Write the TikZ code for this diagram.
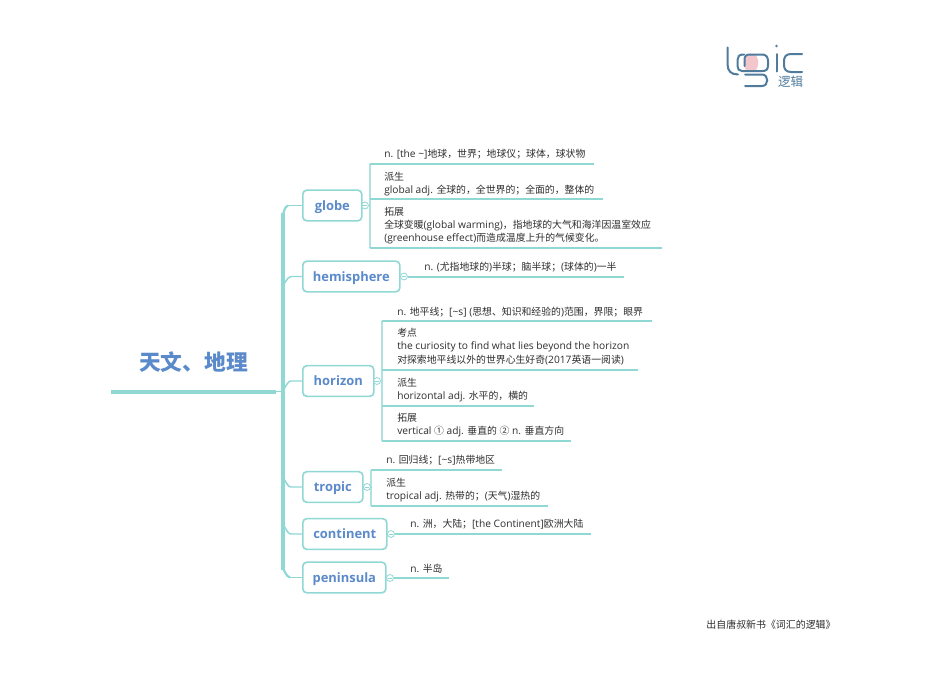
\documentclass[tikz,border=0pt]{standalone}
\usepackage{fontspec}
\usetikzlibrary{calc}
\setmainfont{Open Sans}
\newfontfamily\cjk[Scale=0.967]{Noto Sans CJK SC}
\newcommand{\zh}[1]{{\cjk #1}}
\definecolor{teal1}{HTML}{8FD8D4}
\definecolor{blue1}{HTML}{5B8ACB}
\definecolor{ink}{HTML}{2E2E2E}
\definecolor{logob}{HTML}{4F7C9C}
\definecolor{logop}{HTML}{F3C6CC}
\tikzset{
  topic/.style={draw=teal1,line width=1.2pt,rounded corners=3pt,fill=white,anchor=west,minimum height=23pt,inner sep=0pt,text=blue1,text height=8pt,text depth=1.2pt,font=\fontsize{9.7}{12}\selectfont\bfseries},
  leaf/.style={anchor=west,inner sep=0pt,text=ink,font=\fontsize{7.65}{10}\selectfont,align=left},
  under/.style={draw=teal1,line width=1.5pt},
  bracket/.style={draw=teal1,line width=1.5pt,draw opacity=0.7},
  trunk/.style={draw=teal1,line width=2.4pt},
  branch/.style={draw=teal1,line width=1.1pt},
  fold/.style={circle,draw=teal1,line width=0.6pt,fill=white,minimum size=5.2pt,inner sep=0pt},
  logoline/.style={draw=logob,line width=1.5pt,line cap=round}
}
\newcommand{\foldmark}[2]{\node[fold] (#1) at #2 {};\draw[draw=teal1,line width=0.4pt] ($(#1)+(-2,0)$) -- ($(#1)+(2,0)$);}
\begin{document}
\begin{tikzpicture}[x=0.75pt,y=-0.75pt]
\useasboundingbox[fill=white] (0,0) rectangle (950,672);
% root
\node[anchor=center,inner sep=0pt,text=blue1,font=\fontsize{16.85}{18}\selectfont\cjk\bfseries] (root) at (193.5,362) {天文、地理};
\coordinate (rootL) at (111,391.5);
\coordinate (rootR) at (276,391.5);
\coordinate (tt) at (283,213);
\coordinate (tb) at (283,570);
\coordinate (tm) at (283,391.5);
\draw[draw=teal1,line width=3pt] (rootL) -- (rootR);
\draw[branch] (rootR) -- (tm);
% topics
\node[topic,minimum width=44.25pt] (globe) at (302,205.5) {globe};
\node[topic,minimum width=72.75pt] (hemi) at (302,276.5) {hemisphere};
\node[topic,minimum width=53.25pt] (horizon) at (302,381) {horizon};
\node[topic,minimum width=45pt] (tropic) at (302,487) {tropic};
\node[topic,minimum width=63pt] (cont) at (302,534) {continent};
\node[topic,minimum width=62.25pt] (pen) at (302,577.5) {peninsula};
% trunk and branches
\draw[trunk] (tt) -- (tb);
\draw[trunk,line width=1.6pt] (tt) to[out=-90,in=180] ($(globe.west)+(-14,0)$);
\draw[branch] ($(globe.west)+(-14,0)$) -- (globe.west);
\draw[branch] (283,284) to[out=-90,in=180] (291,276.5) -- (hemi.west);
\draw[branch] (283,389) to[out=-90,in=180] (291,381) -- (horizon.west);
\draw[branch] (283,479) to[out=90,in=180] (291,487) -- (tropic.west);
\draw[branch] (283,526) to[out=90,in=180] (291,534) -- (cont.west);
\draw[trunk,line width=1.6pt] (tb) to[out=90,in=180] ($(pen.west)+(-12,0)$);
\draw[branch] ($(pen.west)+(-12,0)$) -- (pen.west);
% fold marks
\foldmark{fa}{(365,205.5)}
\foldmark{fb}{(404,276.5)}
\foldmark{fc}{(377,381)}
\foldmark{fd}{(367,487)}
\foldmark{fe}{(391,534)}
\foldmark{ff}{(390,578)}
\foreach \p/\q in {globe/fa,hemi/fb,horizon/fc,tropic/fd,cont/fe,pen/ff}{\draw[draw=teal1,line width=0.5pt] (\p.east) -- (\q.west);}
% globe leaves
\coordinate (a0) at (369.5,163.5); \coordinate (a0b) at (369.5,248);
\coordinate (a1) at (594,163.5); \coordinate (a2) at (603,199); \coordinate (a3) at (662,248);
\draw[bracket] (a0) -- (a0b);
\draw[under] (a0) -- (a1);
\draw[under] (369.5,199) -- (a2);
\draw[under] (a0b) -- (a3);
\draw[bracket,line width=0.7pt] (fa.east) -- (369.5,205.5);
\node[leaf] (t1) at (384,154.5) {n. [the \textasciitilde]\zh{地球，世界；地球仪；球体，球状物}};
\node[leaf,anchor=north west] (t2) at (384,171.5) {\zh{派生}\\global adj. \zh{全球的，全世界的；全面的，整体的}};
\node[leaf,anchor=north west] (t3) at (384,206.5) {\zh{拓展}\\\zh{全球变暖}(global warming)\zh{，指地球的大气和海洋因温室效应}\\(greenhouse effect)\zh{而造成温度上升的气候变化。}};
% hemisphere
\coordinate (b1) at (624,276.5);
\draw[under] (fb.east) -- (b1);
\node[leaf] (t4) at (424,267) {n. (\zh{尤指地球的})\zh{半球；脑半球；}(\zh{球体的})\zh{一半}};
% horizon
\coordinate (c0) at (382,321); \coordinate (c0b) at (382,441);
\coordinate (c1) at (652,321); \coordinate (c2) at (638,370); \coordinate (c3) at (534,405.5); \coordinate (c4) at (571,441);
\draw[bracket] (c0) -- (c0b);
\draw[under] (c0) -- (c1);
\draw[under] (382,370) -- (c2);
\draw[under] (382,405.5) -- (c3);
\draw[under] (c0b) -- (c4);
\draw[bracket,line width=0.7pt] (fc.east) -- (382,381);
\node[leaf] (t5) at (397,312) {n. \zh{地平线；}[\textasciitilde s] (\zh{思想、知识和经验的})\zh{范围，界限；眼界}};
\node[leaf,anchor=north west] (t6) at (397,328) {\zh{考点}\\the curiosity to find what lies beyond the horizon\\\zh{对探索地平线以外的世界心生好奇}(2017\zh{英语一阅读})};
\node[leaf,anchor=north west] (t7) at (397,377.5) {\zh{派生}\\horizontal adj. \zh{水平的，横的}};
\node[leaf,anchor=north west] (t8) at (397,412.5) {\zh{拓展}\\vertical \zh{①} adj. \zh{垂直的} \zh{②} n. \zh{垂直方向}};
% tropic
\coordinate (d0) at (371,469.5); \coordinate (d0b) at (371,505.5);
\coordinate (d1) at (502,469.5); \coordinate (d2) at (548,505.5);
\draw[bracket] (d0) -- (d0b);
\draw[under] (d0) -- (d1);
\draw[under] (d0b) -- (d2);
\draw[bracket,line width=0.7pt] (fd.east) -- (371,487);
\node[leaf] (t9) at (386,460.5) {n. \zh{回归线；}[\textasciitilde s]\zh{热带地区}};
\node[leaf,anchor=north west] (t10) at (386,477.5) {\zh{派生}\\tropical adj. \zh{热带的；}(\zh{天气})\zh{湿热的}};
% continent
\coordinate (e1) at (591,534);
\draw[under] (fe.east) -- (e1);
\node[leaf] (t11) at (410,524.5) {n. \zh{洲，大陆；}[the Continent]\zh{欧洲大陆}};
% peninsula
\coordinate (f1) at (449,578);
\draw[under] (ff.east) -- (f1);
\node[leaf] (t12) at (410,568.5) {n. \zh{半岛}};
% footer
\node[anchor=center,inner sep=0pt,text=ink,font=\fontsize{7.7}{9}\selectfont\cjk] (foot) at (771,624.5) {出自唐叔新书《词汇的逻辑》};
% logo
\fill[logop,rounded corners=4pt] (744,54.5) rectangle (758,71);
\draw[logoline] (727.5,47.5) -- (727.5,64) .. controls (727.5,71) and (731,74.5) .. (738,74.5);
\draw[logoline] (744,54.5) -- (743,54.5) .. controls (739,54.5) and (737.5,57) .. (737.5,60) -- (737.5,66) .. controls (737.5,69) and (739,71) .. (742,71) -- (752,71);
\draw[logoline] (750,54.5) -- (762,54.5) .. controls (766,54.5) and (768,57) .. (768,61) -- (768,65) .. controls (768,70) and (766,71) .. (762,71) -- (752,71);
\draw[logoline] (750,54.5) .. controls (746,54.5) and (744.5,56) .. (744.5,60) -- (744.5,66);
\draw[logoline] (745,74.5) -- (762,74.5) .. controls (769,74.5) and (769,86) .. (762,86) -- (745,86);
\fill[logob] (776.5,46) circle (1.4);
\draw[logoline] (776.5,54) -- (776.5,71.5);
\draw[logoline] (802,54) -- (791,54) .. controls (786,54) and (784,57) .. (784,61) -- (784,65) .. controls (784,69) and (786,72) .. (791,72) -- (802,72);
\node[anchor=center,inner sep=0pt,text=logob,font=\fontsize{9.7}{10}\selectfont\cjk] (lg) at (790.5,81.5) {逻辑};
\end{tikzpicture}
\end{document}
